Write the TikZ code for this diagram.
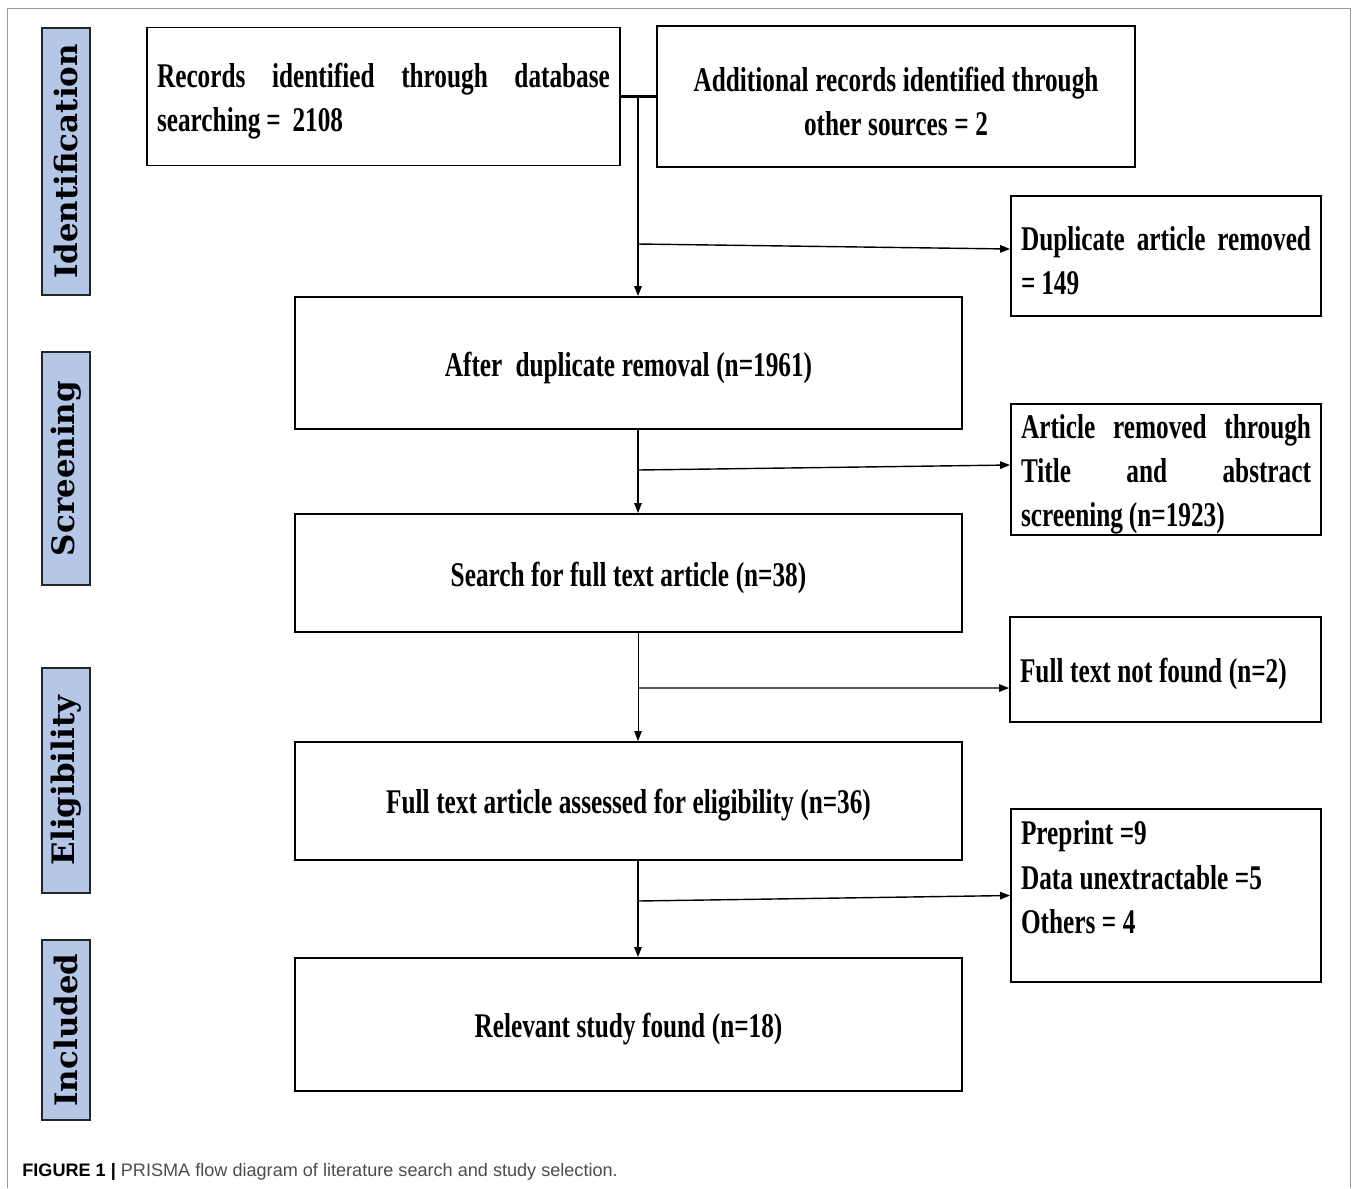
\documentclass[tikz,border=0pt]{standalone}
\usepackage{fontspec}
\usepackage{xcolor}
\usetikzlibrary{arrows.meta}
\newfontfamily\boxfont{Liberation Serif}[FakeStretch=0.73, WordSpace=0.55]
\newfontfamily\stagefont{DejaVu Serif}
\newfontfamily\capfont{Liberation Sans}
\definecolor{stageblue}{HTML}{B4C7E7}

\begin{document}
\begin{tikzpicture}[x=0.02cm, y=-0.02cm,
    box/.style={draw, line width=1.1pt, inner xsep=0.2cm, inner ysep=0pt,
        font=\boxfont\bfseries\fontsize{19.7}{25}\selectfont},
    jbox/.style={box, align=justify,
        execute at begin node={\spaceskip=0.17em plus 1em minus 0.05em\relax\rule{0pt}{0.67cm}}},
    cbox/.style={box, align=center,
        execute at begin node={\spaceskip=0.19em\relax\rule{0pt}{0.67cm}}},
    lbox/.style={box, align=left,
        execute at begin node={\spaceskip=0.19em\relax\rule{0pt}{0.67cm}}},
    stage/.style={draw=black!85, fill=stageblue, line width=1pt, rotate=90,
        minimum height=0.96cm, inner sep=0pt,
        font=\stagefont\bfseries\fontsize{17.6}{20}\selectfont},
    link/.style={line width=0.8pt},
    arr/.style={link, -{Triangle[length=0.2cm, width=0.15cm]}}]
    \useasboundingbox (0,0) rectangle (1358,1188);

    % Outer frame
    \draw[black!40, line width=0.5pt] (7,1188) -- (7,8) -- (1350,8) -- (1350,1188);

    % Stage labels
    \node[stage, minimum width=5.34cm] (ident) at (66,161.5) {Identification};
    \node[stage, minimum width=4.66cm] (screen) at (66,468.5) {Screening};
    \node[stage, minimum width=4.5cm] (elig) at (66,780.5) {Eligibility};
    \node[stage, minimum width=3.6cm] (incl) at (66,1030) {Included};

    % Identification
    \node[jbox, minimum width=9.46cm, minimum height=2.76cm, text width=9.06cm]
        (rec) at (383.5,96.5) {Records identified through database\linebreak searching = ~2108};
    \node[cbox, minimum width=9.56cm, minimum height=2.82cm, text width=9.16cm]
        (add) at (896,96.5) {Additional records identified through\\other sources = 2};
    \node[jbox, minimum width=6.2cm, minimum height=2.4cm, text width=5.8cm]
        (dup) at (1166,256) {Duplicate article removed\linebreak = 149};

    % Screening
    \node[cbox, minimum width=13.34cm, minimum height=2.64cm, text width=12.94cm]
        (after) at (628.5,363) {After~ duplicate removal (n=1961)};
    \node[jbox, minimum width=6.2cm, minimum height=2.62cm, text width=5.8cm]
        (art) at (1166,469.5) {Article removed through\linebreak Title and abstract\linebreak screening (n=1923)};
    \node[cbox, minimum width=13.34cm, minimum height=2.36cm, text width=12.94cm]
        (search) at (628.5,573) {Search for full text article (n=38)};

    % Eligibility
    \node[lbox, minimum width=6.22cm, minimum height=2.1cm, text width=5.82cm]
        (nf) at (1165.5,669.5) {Full text not found (n=2)};
    \node[cbox, minimum width=13.34cm, minimum height=2.36cm, text width=12.94cm]
        (assess) at (628.5,801) {Full text article assessed for eligibility (n=36)};
    \node[lbox, text width=5.8cm, text height=0.7cm, text depth=2.76cm,
        font=\boxfont\bfseries\fontsize{19.7}{25.6}\selectfont]
        (pre) at (1166,895.5) {Preprint =9\\Data unextractable =5\\Others = 4};

    % Included
    \node[cbox, minimum width=13.34cm, minimum height=2.66cm, text width=12.94cm]
        (rel) at (628.5,1024.5) {Relevant study found (n=18)};

    % Connectors
    \coordinate (j1) at (638,96.5);
    \draw[link, line width=1.6pt] (rec.east) -- (add.west);
    \draw[arr, line width=1pt] (j1) -- (j1 |- after.north);
    \coordinate (b1) at (638,244);
    \draw[arr] (b1) -- ([yshift=0.14cm]dup.west);

    \draw[arr] (after.south -| j1) -- (search.north -| j1);
    \coordinate (b2) at (638,470);
    \draw[arr] (b2) -- ([yshift=0.09cm]art.west);

    \draw[arr, line width=0.5pt] (search.south -| j1) -- (assess.north -| j1);
    \coordinate (b3) at (638,688);
    \draw[arr] (b3) -- ([yshift=-0.37cm]nf.west);

    \draw[arr] (assess.south -| j1) -- (rel.north -| j1);
    \coordinate (b4) at (638,901);
    \draw[arr] (b4) -- (pre.west);

    % Caption
    \node[anchor=base west, inner sep=0pt, font=\capfont\fontsize{10.3}{12}\selectfont]
        (cap) at (22,1176.5) {\textbf{FIGURE 1 |} \textcolor{black!70}{PRISMA flow diagram of literature search and study selection.}};
\end{tikzpicture}
\end{document}
